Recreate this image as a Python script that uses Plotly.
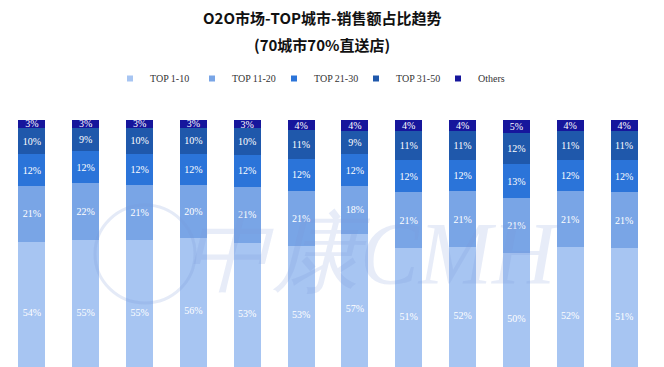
import plotly.graph_objects as go

periods = ["P1", "P2", "P3", "P4", "P5", "P6", "P7", "P8", "P9", "P10", "P11", "P12"]
series_names = ["TOP 1-10", "TOP 11-20", "TOP 21-30", "TOP 31-50", "Others"]
top_1_10 = [54, 55, 55, 56, 53, 53, 57, 51, 52, 50, 52, 51]
top_11_20 = [21, 22, 21, 20, 21, 21, 18, 21, 21, 21, 21, 21]
top_21_30 = [12, 12, 12, 12, 12, 12, 12, 12, 12, 13, 12, 12]
top_31_50 = [10, 9, 10, 10, 10, 11, 9, 11, 11, 12, 11, 11]
others = [3, 3, 3, 3, 3, 4, 4, 4, 4, 5, 4, 4]

colors = ["#a7c5f2", "#79a5e6", "#2b74d9", "#1f58ab", "#16169c"]
values = [top_1_10, top_11_20, top_21_30, top_31_50, others]

fig = go.Figure()
for name, vals, col in zip(series_names, values, colors):
    fig.add_trace(go.Bar(
        x=periods, y=vals, name=name, marker=dict(color=col, line=dict(width=0)),
        text=[f"{v}%" for v in vals], textposition="inside", insidetextanchor="middle",
        textangle=0, constraintext="none",
        textfont=dict(family="Liberation Serif", size=10, color="white"),
        showlegend=False,
    ))
    # legend-only marker entry (small square swatch)
    fig.add_trace(go.Scatter(
        x=[None], y=[None], mode="markers", name=name,
        marker=dict(symbol="square", size=6, color=col), showlegend=True,
    ))

W, H = 664, 367
fig.add_annotation(text="<b>O2O市场-TOP城市-销售额占比趋势</b>", xref="paper", yref="paper",
                   x=(322 - 5) / 646, y=1 + (120 - 18) / 247, xanchor="center", yanchor="middle",
                   showarrow=False, font=dict(family="Noto Sans CJK SC", size=15, color="#111111"))
fig.add_annotation(text="<b>(70城市70%直送店)</b>", xref="paper", yref="paper",
                   x=(322 - 5) / 646, y=1 + (120 - 45) / 247, xanchor="center", yanchor="middle",
                   showarrow=False, font=dict(family="Noto Sans CJK SC", size=15, color="#111111"))

# faint watermark
fig.add_annotation(text="<i>中康CMH</i>", xref="paper", yref="paper",
                   x=(372 - 5) / 646, y=1 - (253 - 120) / 247, xanchor="center", yanchor="middle",
                   showarrow=False, font=dict(family="Liberation Serif", size=88, color="rgba(120,150,215,0.18)"))
fig.add_shape(type="circle", xref="paper", yref="paper",
              x0=(95 - 5) / 646, x1=(195 - 5) / 646, y0=1 - (303 - 120) / 247, y1=1 - (205 - 120) / 247,
              line=dict(color="rgba(120,150,215,0.2)", width=3))

fig.update_layout(
    width=W, height=H,
    barmode="stack", barnorm="percent", bargap=0.5,
    margin=dict(l=5, r=13, t=120, b=0, autoexpand=False),
    paper_bgcolor="white", plot_bgcolor="white",
    xaxis=dict(visible=False),
    yaxis=dict(visible=False, range=[6.5, 100]),
    legend=dict(orientation="h", xref="container", yref="container", traceorder="normal",
                x=110 / W, y=1 - 64 / H, xanchor="left", yanchor="top",
                entrywidth=37, font=dict(family="Liberation Serif", size=10, color="#333333"),
                bgcolor="rgba(0,0,0,0)"),
)

fig.write_html("out.html", config={"displayModeBar": False},
               post_script="document.body.style.margin='0';")
